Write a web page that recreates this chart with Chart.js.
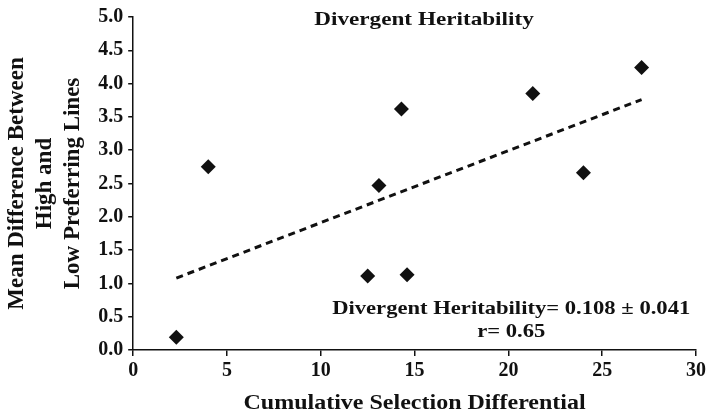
<!DOCTYPE html>
<html>
<head>
<meta charset="utf-8">
<script src="https://cdn.jsdelivr.net/npm/chart.js@4/dist/chart.umd.min.js"></script>
<style>
  html, body { margin: 0; padding: 0; background: #fff; }
  #wrap { width: 714px; height: 420px; }
</style>
</head>
<body>
<div id="wrap"><canvas id="chart" width="714" height="420"></canvas></div>
<script>
// dados
const selDiff = [2.3, 4.0, 12.5, 13.1, 14.3, 14.6, 21.3, 24.0, 27.1];
const meanDiff = [0.19, 2.75, 1.11, 2.47, 3.62, 1.13, 3.85, 2.66, 4.24];
const trendX = [2.3, 27.1];
const trendY = [1.08, 3.76];
const xTicks = [0, 5, 10, 15, 20, 25, 30];
const yTicks = [0, 0.5, 1, 1.5, 2, 2.5, 3, 3.5, 4, 4.5, 5];

const chartTitle = 'Divergent Heritability';
const xTitle = 'Cumulative Selection Differential';
const noteLines = ['Divergent Heritability= 0.108 \u00b1 0.041', 'r= 0.65'];

const serif = "'Liberation Serif', 'Times New Roman', serif";

// texto horizontal um pouco esticado, como no original
function stretchedText(c, txt, x, y, size, sx) {
    c.save();
    c.translate(x, y);
    c.scale(sx, 1);
    c.font = 'bold ' + size + 'px ' + serif;
    c.fillText(txt, 0, 0);
    c.restore();
}

const textPlugin = {
    id: 'textos',
    afterDraw(chart) {
        const c = chart.ctx;
        const area = chart.chartArea;
        const sx = chart.scales.x, sy = chart.scales.y;
        c.save();
        c.fillStyle = '#111';
        c.textAlign = 'center';
        c.textBaseline = 'middle';
        stretchedText(c, chartTitle, 424, area.top + 3, 19, 1.22);
        const nx = sx.getPixelForValue(20.15);
        stretchedText(c, noteLines[0], nx, sy.getPixelForValue(0.62), 19, 1.19);
        stretchedText(c, noteLines[1], nx, sy.getPixelForValue(0.27), 19, 1.19);
        stretchedText(c, xTitle, (area.left + area.right) / 2, chart.height - 16, 20, 1.2);
        c.restore();
    }
};

new Chart(document.getElementById('chart').getContext('2d'), {
    type: 'scatter',
    data: {
        datasets: [{
            label: 'Pontos',
            data: selDiff.map((v, i) => ({ x: v, y: meanDiff[i] })),
            pointStyle: 'rectRot',
            pointRadius: 7.5,
            backgroundColor: '#111',
            borderColor: '#111',
            borderWidth: 0
        }, {
            label: 'Tendência',
            type: 'line',
            data: trendX.map((v, i) => ({ x: v, y: trendY[i] })),
            borderColor: '#111',
            borderWidth: 3,
            borderDash: [7, 5],
            pointRadius: 0,
            fill: false
        }]
    },
    options: {
        responsive: false,
        animation: false,
        layout: { padding: { left: 3, right: 18, top: 8, bottom: 6 } },
        plugins: {
            legend: { display: false },
            tooltip: { enabled: false }
        },
        scales: {
            x: {
                type: 'linear',
                min: 0, max: 30,
                afterBuildTicks: s => { s.ticks = xTicks.map(v => ({ value: v })); },
                grid: { display: true, drawOnChartArea: false, drawTicks: true, tickLength: 6, color: '#111', lineWidth: 1.5 },
                border: { display: true, color: '#111', width: 1.5 },
                ticks: { color: '#111', font: { family: serif, size: 20, weight: 'bold' }, padding: 3, maxRotation: 0 },
                title: {
                    // espaço reservado; o texto é desenhado pelo plugin
                    display: true,
                    text: xTitle,
                    color: 'rgba(0,0,0,0)',
                    font: { family: serif, size: 20, weight: 'bold' },
                    padding: { top: 4, bottom: 0 }
                }
            },
            y: {
                type: 'linear',
                min: 0, max: 5,
                afterBuildTicks: s => { s.ticks = yTicks.map(v => ({ value: v })); },
                grid: { display: true, drawOnChartArea: false, drawTicks: true, tickLength: 5, color: '#111', lineWidth: 1.5 },
                border: { display: true, color: '#111', width: 1.5 },
                ticks: {
                    color: '#111',
                    font: { family: serif, size: 20, weight: 'bold' },
                    padding: 5,
                    callback: v => v.toFixed(1)
                },
                title: {
                    display: true,
                    text: ['Mean Difference Between', 'High and', 'Low Preferring Lines'],
                    color: '#111',
                    font: { family: serif, size: 23, weight: 'bold', lineHeight: 1.22 },
                    padding: { top: 0, bottom: 6 }
                }
            }
        }
    },
    plugins: [textPlugin]
});
</script>
</body>
</html>
